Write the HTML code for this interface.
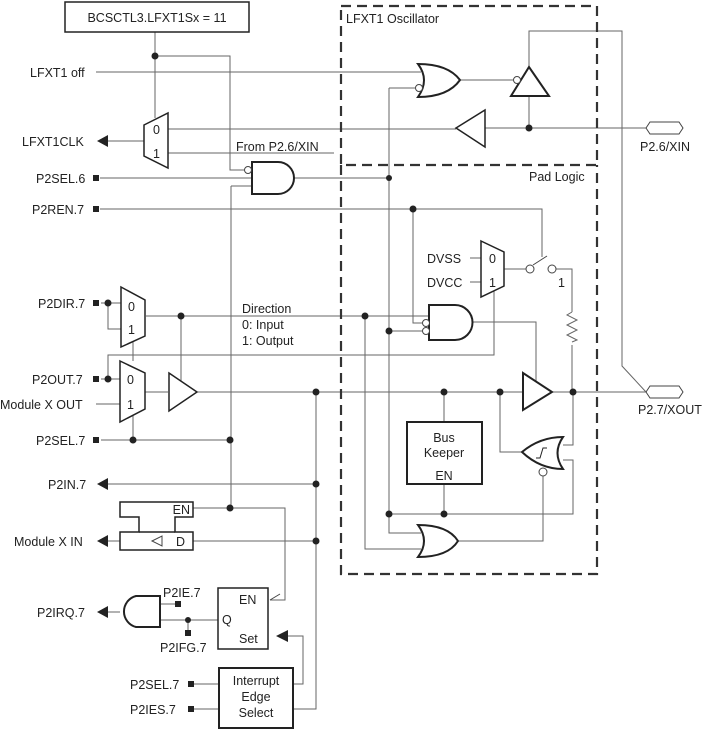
<!DOCTYPE html>
<html><head><meta charset="utf-8"><style>
html,body{margin:0;padding:0;background:#fff;}
svg{display:block;}
text{font-family:"Liberation Sans",Arial,sans-serif;font-size:12.5px;fill:#222;}
</style></head><body>
<svg width="710" height="729" viewBox="0 0 710 729" xmlns="http://www.w3.org/2000/svg">
<g fill="none" stroke="#666" stroke-width="1">
<path d="M155 32V118"/>
<path d="M155 56H230V170H244"/>
<path d="M96 72H421"/>
<path d="M108 141H144"/>
<path d="M168 129H456"/>
<path d="M168 153H334"/>
<path d="M100 178H252"/>
<path d="M231 186H252"/>
<path d="M231 186V508"/>
<path d="M294 178H389"/>
<path d="M389 88H415"/>
<path d="M389 88V533H421"/>
<path d="M365 316V549H421"/>
<path d="M458 541H543V476"/>
<path d="M460 80H513"/>
<path d="M529 67V31H622V366L646 392"/>
<path d="M529 96V128"/>
<path d="M485 128H646"/>
<path d="M100 209H542V257"/>
<path d="M413 209V323H422"/>
<path d="M389 331H422"/>
<path d="M470 258H481M470 282H481"/>
<path d="M504 269H526"/>
<path d="M556 269H572V312M572 345V392"/>
<path d="M572 312l-5 3l10 5l-10 5l10 5l-10 5l10 5l-5 2"/>
<path d="M494 290V355H108V379"/>
<path d="M146 316H429"/>
<path d="M181 316V383"/>
<path d="M472 322H536V381"/>
<path d="M108 303V329H121"/>
<path d="M101 303H121"/>
<path d="M133 341V361"/>
<path d="M101 379H120"/>
<path d="M96 404H120"/>
<path d="M145 392H168"/>
<path d="M197 392H523M552 392H646"/>
<path d="M444 392V422M444 484V514"/>
<path d="M389 514H573V460H563"/>
<path d="M573 392V445H563"/>
<path d="M500 392V452H522"/>
<path d="M133 408V440"/>
<path d="M101 440H230"/>
<path d="M108 484H316"/>
<path d="M316 392V709H293"/>
<path d="M193 508H285V600H270"/>
<path d="M108 541H120M193 541H316"/>
<path d="M108 612H120"/>
<path d="M160 604H178"/>
<path d="M160 620H218"/>
<path d="M188 620V630"/>
<path d="M288 636H303V684H293"/>
<path d="M194 684H219M194 709H219"/>
<path d="M270 600l10 -6" stroke="#444"/>
</g>
<g fill="none" stroke="#333" stroke-width="2.2" stroke-dasharray="10,6">
<rect x="341" y="6" width="256" height="159"/>
<path d="M341 165V574H597V165"/>
</g>
<g fill="#fff" stroke="#222" stroke-width="2">
<rect x="65" y="2" width="184" height="30" stroke-width="1.5"/>
<path d="M144 125L168 113V168L144 156Z" stroke-width="1.5"/>
<path d="M252 162H278A16 16 0 0 1 278 194H252Z"/>
<path d="M418 64Q448 64 460 80Q448 97 418 97Q430 80 418 64Z"/>
<path d="M511 96H549L529 67Z"/>
<path d="M456 128L485 110V147Z" stroke-width="1.5"/>
<path d="M481 241L504 252V286L481 297Z" stroke-width="1.5"/>
<path d="M429 305H455A17 17 0 0 1 455 340H429Z"/>
<path d="M121 287L145 300V336L121 347Z" stroke-width="1.5"/>
<path d="M120 361L145 373V409L120 422Z" stroke-width="1.5"/>
<path d="M169 373L197 392L169 411Z" stroke-width="1.5"/>
<path d="M523 373L552 392L523 410Z"/>
<rect x="407" y="422" width="75" height="62"/>
<path d="M563 437Q540 437 522 452Q540 469 563 469Q552 453 563 437Z"/>
<path d="M418 525Q448 525 458 541Q448 557 418 557Q430 541 418 525Z"/>
<path d="M120 502H193V517H175V532H193V550H120V532H139V517H120Z" stroke-width="1.5"/>
<path d="M139 532H175" stroke-width="1.5"/>
<rect x="218" y="588" width="50" height="61" stroke-width="1.5"/>
<rect x="219" y="668" width="74" height="60"/>
<path d="M160 596H136A16 16 0 0 0 136 627H160Z"/>
</g>
<g fill="#fff" stroke="#444" stroke-width="1">
<circle cx="248" cy="170" r="3.5"/>
<circle cx="419" cy="88" r="3.5"/>
<circle cx="517" cy="80" r="3.5"/>
<circle cx="426" cy="323" r="3.5"/>
<circle cx="426" cy="331" r="3.5"/>
<circle cx="530" cy="269" r="4"/>
<circle cx="552" cy="269" r="4"/>
<circle cx="543" cy="472" r="4"/>
<path d="M533 265L547 256"/>
<path d="M646 128l4 -6h29l4 6l-4 6h-29z"/>
<path d="M646 392l4 -6h29l4 6l-4 6h-29z"/>
<path d="M536 458h4l3 -10h4" stroke="#222"/>
<path d="M152 541l10 -5v10z" stroke-width="1"/>
</g>
<g fill="#222">
<circle cx="155" cy="56" r="3.5"/><circle cx="389" cy="178" r="3"/><circle cx="529" cy="128" r="3.5"/>
<circle cx="413" cy="209" r="3.5"/><circle cx="365" cy="316" r="3.5"/><circle cx="389" cy="331" r="3.5"/>
<circle cx="181" cy="316" r="3.5"/><circle cx="108" cy="303" r="3.5"/><circle cx="108" cy="379" r="3.5"/>
<circle cx="316" cy="392" r="3.5"/><circle cx="444" cy="392" r="3.5"/><circle cx="500" cy="392" r="3.5"/><circle cx="573" cy="392" r="3.5"/>
<circle cx="133" cy="440" r="3.5"/><circle cx="230" cy="440" r="3.5"/><circle cx="316" cy="484" r="3.5"/>
<circle cx="230" cy="508" r="3.5"/><circle cx="316" cy="541" r="3.5"/><circle cx="389" cy="514" r="3.5"/><circle cx="444" cy="514" r="3.5"/>
<circle cx="188" cy="620" r="3"/>
<rect x="93" y="175" width="6" height="6"/><rect x="93" y="206" width="6" height="6"/>
<rect x="93" y="300" width="6" height="6"/><rect x="93" y="376" width="6" height="6"/><rect x="93" y="437" width="6" height="6"/>
<rect x="175" y="601" width="6" height="6"/><rect x="185" y="630" width="6" height="6"/>
<rect x="188" y="681" width="6" height="6"/><rect x="188" y="706" width="6" height="6"/>
<path d="M97 141l11 -6v12z"/><path d="M97 484l11 -6v12z"/><path d="M97 541l11 -6v12z"/><path d="M97 612l11 -6v12z"/>
<path d="M276 636l12 -6v12z"/>
</g>
<text x="157" y="22" text-anchor="middle" font-size="13">BCSCTL3.LFXT1Sx = 11</text>
<text x="30" y="77">LFXT1 off</text>
<text x="22" y="146">LFXT1CLK</text>
<text x="153" y="134">0</text><text x="153" y="158">1</text>
<text x="236" y="151">From P2.6/XIN</text>
<text x="36" y="183">P2SEL.6</text>
<text x="32" y="214">P2REN.7</text>
<text x="346" y="23">LFXT1 Oscillator</text>
<text x="529" y="181">Pad Logic</text>
<text x="640" y="151">P2.6/XIN</text>
<text x="427" y="263">DVSS</text><text x="427" y="287">DVCC</text>
<text x="489" y="263">0</text><text x="489" y="287">1</text>
<text x="558" y="287">1</text>
<text x="38" y="308">P2DIR.7</text>
<text x="128" y="311">0</text><text x="128" y="334">1</text>
<text x="242" y="313">Direction</text>
<text x="242" y="329">0: Input</text>
<text x="242" y="345">1: Output</text>
<text x="32" y="384">P2OUT.7</text>
<text x="0" y="409">Module X OUT</text>
<text x="127" y="384">0</text><text x="127" y="409">1</text>
<text x="638" y="414">P2.7/XOUT</text>
<text x="36" y="445">P2SEL.7</text>
<text x="48" y="489">P2IN.7</text>
<text x="444" y="442" text-anchor="middle">Bus</text>
<text x="444" y="457" text-anchor="middle">Keeper</text>
<text x="444" y="480" text-anchor="middle">EN</text>
<text x="190" y="514" text-anchor="end">EN</text>
<text x="176" y="546">D</text>
<text x="14" y="546">Module X IN</text>
<text x="163" y="597">P2IE.7</text>
<text x="37" y="617">P2IRQ.7</text>
<text x="160" y="652">P2IFG.7</text>
<text x="239" y="604">EN</text>
<text x="222" y="624">Q</text>
<text x="239" y="643">Set</text>
<text x="256" y="685" text-anchor="middle">Interrupt</text>
<text x="256" y="701" text-anchor="middle">Edge</text>
<text x="256" y="717" text-anchor="middle">Select</text>
<text x="130" y="689">P2SEL.7</text>
<text x="130" y="714">P2IES.7</text>
</svg>
</body></html>
